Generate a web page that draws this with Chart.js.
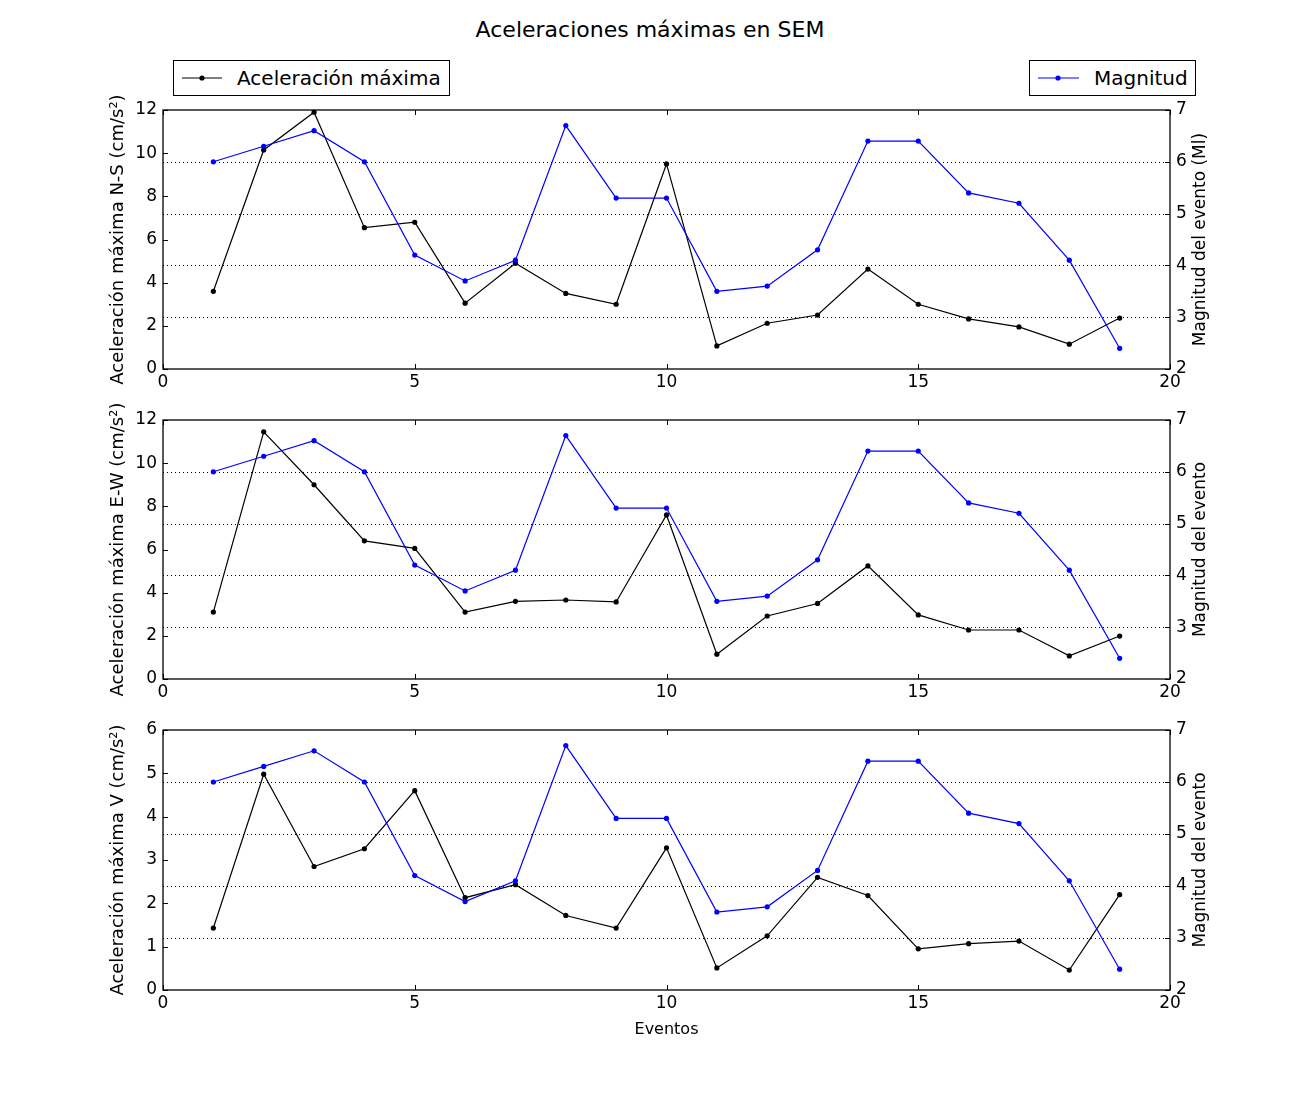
<!DOCTYPE html>
<html lang="es">

<head>
    <meta charset="UTF-8">
    <title>Aceleraciones máximas en SEM</title>
    <script src="https://cdn.jsdelivr.net/npm/chart.js"></script>
    <style>
        body {
            margin: 0;
            background: #fff;
            font-family: "DejaVu Sans", sans-serif;
        }

        #page {
            position: relative;
            width: 1300px;
            height: 1100px;
        }

        .panel {
            position: absolute;
            left: 0;
        }

        #title {
            position: absolute;
            top: 17px;
            left: 0;
            width: 1300px;
            text-align: center;
            font-size: 22px;
        }

        .legend {
            position: absolute;
            top: 60px;
            height: 34px;
            border: 1px solid #000;
            font-size: 20px;
            line-height: 34px;
        }

        .legend svg {
            position: absolute;
            left: 0;
            top: 0;
        }

        .legend span {
            position: absolute;
            top: 0;
        }
    </style>
</head>

<body>
    <div id="page">
        <div id="title">Aceleraciones máximas en SEM</div>

        <div class="legend" style="left:173px; width:275px;">
            <svg width="60" height="34"><line x1="8" y1="17" x2="48" y2="17" stroke="#000" stroke-width="1.2"/><circle cx="28" cy="17" r="2.6" fill="#000"/></svg>
            <span style="left:63px;">Aceleración máxima</span>
        </div>
        <div class="legend" style="left:1029px; width:165px;">
            <svg width="60" height="34"><line x1="8" y1="17" x2="49" y2="17" stroke="#00f" stroke-width="1.2"/><circle cx="28" cy="17" r="2.6" fill="#00f"/></svg>
            <span style="left:64px;">Magnitud</span>
        </div>

        <div class="panel" style="top:90px;"><canvas id="chartNS" width="1300" height="320"></canvas></div>
        <div class="panel" style="top:400px;"><canvas id="chartEW" width="1300" height="320"></canvas></div>
        <div class="panel" style="top:710px;"><canvas id="chartV" width="1300" height="340"></canvas></div>
    </div>

    <script>
        // Data
        const events = [1, 2, 3, 4, 5, 6, 7, 8, 9, 10, 11, 12, 13, 14, 15, 16, 17, 18, 19];
        const accelNS = [3.6, 10.15, 11.9, 6.55, 6.8, 3.05, 4.9, 3.5, 3.0, 9.5, 1.07, 2.12, 2.5, 4.63, 3.0, 2.32, 1.95, 1.15, 2.36];
        const accelEW = [3.1, 11.45, 9.0, 6.4, 6.05, 3.1, 3.6, 3.66, 3.57, 7.6, 1.15, 2.92, 3.5, 5.24, 2.97, 2.27, 2.27, 1.07, 1.99];
        const accelV = [1.43, 4.98, 2.85, 3.26, 4.6, 2.13, 2.43, 1.72, 1.43, 3.28, 0.51, 1.25, 2.6, 2.18, 0.95, 1.07, 1.13, 0.46, 2.2];
        const magnitude = [6.0, 6.3, 6.6, 6.0, 4.2, 3.7, 4.1, 6.7, 5.3, 5.3, 3.5, 3.6, 4.3, 6.4, 6.4, 5.4, 5.2, 4.1, 2.4];

        const FONT = '"DejaVu Sans", sans-serif';

        // matplotlib-like frame: dotted grid from right axis, inward ticks, box,
        // and the right axis title reading bottom to top
        const mplFrame = {
            id: 'mplFrame',
            beforeDatasetsDraw(chart) {
                const { ctx, chartArea: a, scales } = chart;
                const y2 = scales.y2;
                ctx.save();
                ctx.strokeStyle = '#000';
                ctx.lineWidth = 1;
                ctx.setLineDash([1, 3]);
                y2.ticks.forEach(t => {
                    if (t.value <= y2.min || t.value >= y2.max) return;
                    const y = Math.round(y2.getPixelForValue(t.value)) + 0.5;
                    ctx.beginPath();
                    ctx.moveTo(a.left, y);
                    ctx.lineTo(a.right, y);
                    ctx.stroke();
                });
                ctx.restore();
            },
            afterDatasetsDraw(chart, args, opts) {
                const { ctx, chartArea: a, scales } = chart;
                const len = 5;
                ctx.save();
                ctx.strokeStyle = '#000';
                ctx.lineWidth = 1;
                ctx.beginPath();
                scales.x.ticks.forEach(t => {
                    const x = Math.round(scales.x.getPixelForValue(t.value)) + 0.5;
                    ctx.moveTo(x, a.bottom); ctx.lineTo(x, a.bottom - len);
                    ctx.moveTo(x, a.top); ctx.lineTo(x, a.top + len);
                });
                scales.y.ticks.forEach(t => {
                    const y = Math.round(scales.y.getPixelForValue(t.value)) + 0.5;
                    ctx.moveTo(a.left, y); ctx.lineTo(a.left + len, y);
                });
                scales.y2.ticks.forEach(t => {
                    const y = Math.round(scales.y2.getPixelForValue(t.value)) + 0.5;
                    ctx.moveTo(a.right, y); ctx.lineTo(a.right - len, y);
                });
                ctx.stroke();
                ctx.lineWidth = 1.3;
                ctx.strokeRect(a.left, a.top, a.right - a.left, a.bottom - a.top);

                // right axis title
                ctx.fillStyle = '#000';
                ctx.font = '17px ' + FONT;
                ctx.textAlign = 'center';
                ctx.textBaseline = 'middle';
                ctx.translate(a.right + 31, (a.top + a.bottom) / 2);
                ctx.rotate(-Math.PI / 2);
                ctx.fillText(opts.rightTitle, 0, 0);
                ctx.restore();
            }
        };

        function toPoints(values) {
            return events.map((e, i) => ({ x: e, y: values[i] }));
        }

        function createPanel(id, accel, leftTitle, rightTitle, leftMax, leftStep, xTitle, xHeight) {
            const ctx = document.getElementById(id).getContext('2d');
            new Chart(ctx, {
                type: 'line',
                data: {
                    datasets: [{
                        label: 'Magnitud',
                        data: toPoints(magnitude),
                        yAxisID: 'y2',
                        borderColor: '#0000ff',
                        backgroundColor: '#0000ff',
                        borderWidth: 1.2,
                        pointRadius: 2.6,
                        pointBorderWidth: 0,
                        tension: 0,
                        order: 1
                    }, {
                        label: 'Aceleración máxima',
                        data: toPoints(accel),
                        yAxisID: 'y',
                        borderColor: '#000000',
                        backgroundColor: '#000000',
                        borderWidth: 1.2,
                        pointRadius: 2.6,
                        pointBorderWidth: 0,
                        tension: 0,
                        order: 2
                    }]
                },
                options: {
                    responsive: false,
                    animation: false,
                    layout: { padding: { top: 20, left: 0, right: 0, bottom: 0 } },
                    plugins: {
                        legend: { display: false },
                        tooltip: { enabled: false },
                        mplFrame: { rightTitle: rightTitle }
                    },
                    scales: {
                        x: {
                            type: 'linear',
                            min: 0,
                            max: 20,
                            ticks: { stepSize: 5, color: '#000', font: { family: FONT, size: 17 }, padding: 3, maxRotation: 0 },
                            grid: { display: false, drawTicks: false },
                            border: { display: false },
                            title: { display: !!xTitle, text: xTitle, color: '#000', font: { family: FONT, size: 16 }, padding: { top: 0, bottom: 11 } },
                            afterFit(scale) { scale.height = xHeight; }
                        },
                        y: {
                            position: 'left',
                            min: 0,
                            max: leftMax,
                            ticks: { stepSize: leftStep, color: '#000', font: { family: FONT, size: 17 }, padding: 6 },
                            grid: { display: false, drawTicks: false },
                            border: { display: false },
                            title: { display: true, text: leftTitle, color: '#000', font: { family: FONT, size: 18 }, padding: { top: 108, bottom: 0 } },
                            afterFit(scale) { scale.width = 163; }
                        },
                        y2: {
                            position: 'right',
                            min: 2,
                            max: 7,
                            ticks: { stepSize: 1, color: '#000', font: { family: FONT, size: 17 }, padding: 6 },
                            grid: { display: false, drawTicks: false },
                            border: { display: false },
                            afterFit(scale) { scale.width = 130; }
                        }
                    }
                },
                plugins: [mplFrame]
            });
        }

        createPanel('chartNS', accelNS, 'Aceleración máxima N-S (cm/s²)', 'Magnitud del evento (Ml)', 12, 2, '', 41);
        createPanel('chartEW', accelEW, 'Aceleración máxima E-W (cm/s²)', 'Magnitud del evento', 12, 2, '', 41);
        createPanel('chartV', accelV, 'Aceleración máxima V (cm/s²)', 'Magnitud del evento', 6, 1, 'Eventos', 60);
    </script>
</body>

</html>
